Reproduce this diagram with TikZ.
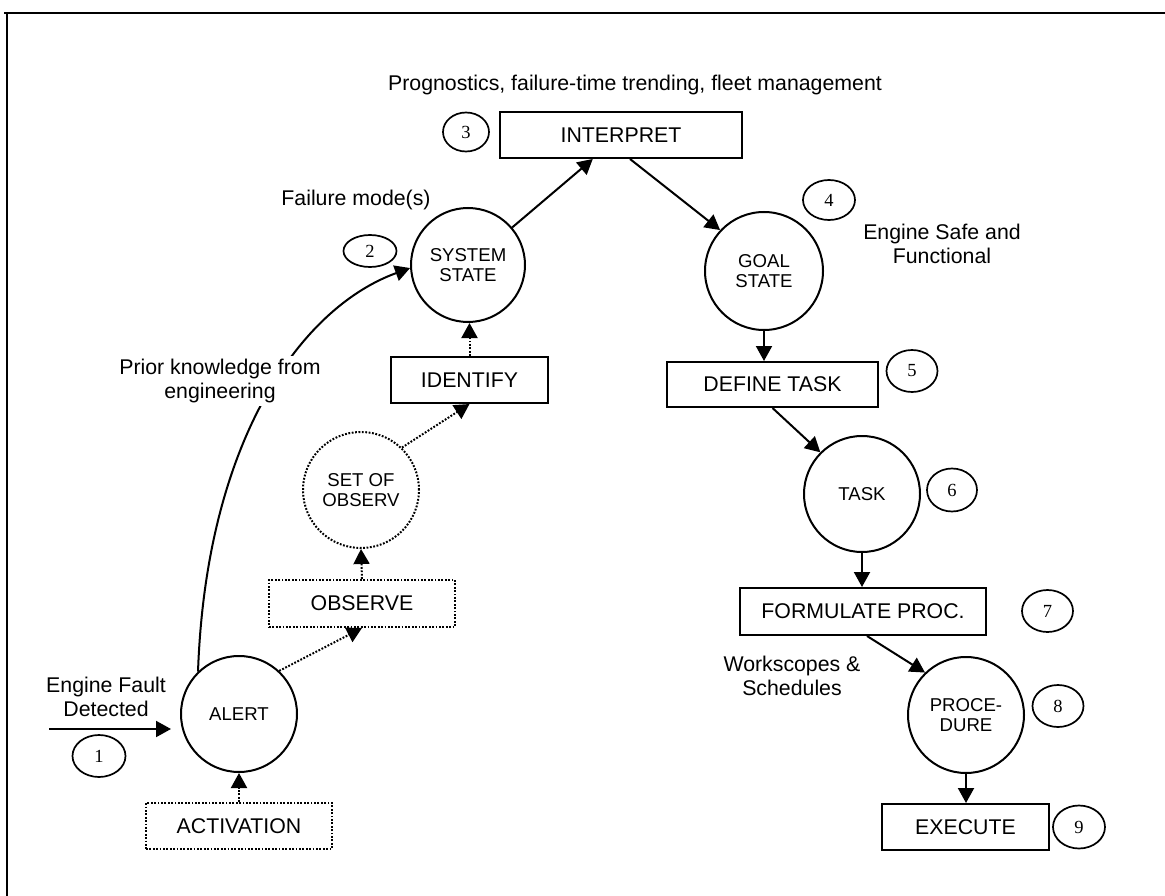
\documentclass[tikz,border=0pt]{standalone}
\usepackage{fontspec}
\setmainfont{Liberation Sans}
\newfontfamily\numfam{Liberation Serif}
\usetikzlibrary{arrows.meta,shapes.geometric,calc}
\begin{document}
\begin{tikzpicture}[x=1pt,y=-1pt,
  lw/.style={line width=2pt},
  circnode/.style={circle,draw,lw,minimum size=116pt,inner sep=0pt,align=center,font=\fontsize{18.6}{20}\selectfont},
  boxnode/.style={rectangle,draw,lw,minimum height=46pt,inner sep=0pt,font=\fontsize{21.3}{24}\selectfont},
  dotpat/.style={dash pattern=on 1.8pt off 1.6pt},
  numnode/.style={ellipse,draw,line width=1.7pt,inner sep=0pt,font=\numfam\fontsize{18.5}{20}\selectfont},
  lbl/.style={align=center,font=\fontsize{21.3}{23.5}\selectfont,inner sep=1pt},
  arr/.style={lw,-{Triangle[length=15pt,width=16pt]}},
  dotarr/.style={arr,dotpat}
]
\useasboundingbox (0,0) rectangle (1165,896);
% frame
\draw[line width=2.2pt] (4,13) -- (1165,13);
\draw[line width=2pt] (7,13) -- (7,896);

% text labels
\node[lbl] (prog) at (635,85) {Prognostics, failure-time trending, fleet management};
\node[lbl] (fail) at (356,200) {Failure mode(s)};
\node[lbl] (safe) at (942,244) {Engine Safe and\\Functional};
\node[lbl] (efd) at (106,697) {Engine Fault\\Detected};
\node[lbl] (work) at (792,676) {Workscopes \&\\Schedules};

% boxes
\node[boxnode,minimum width=242pt] (interp) at (621,135) {INTERPRET};
\node[boxnode,minimum width=157pt] (identify) at (469.5,380) {IDENTIFY};
\node[boxnode,dotpat,minimum width=186pt,minimum height=47pt] (observe) at (362,603.5) {OBSERVE};
\node[boxnode,dotpat,minimum width=186pt] (activation) at (239,826) {ACTIVATION};
\node[boxnode,minimum width=211pt,minimum height=45pt] (define) at (772.5,384.5) {DEFINE TASK};
\node[boxnode,minimum width=246pt,minimum height=47pt] (formulate) at (863,611.5) {FORMULATE PROC.};
\node[boxnode,minimum width=167pt] (execute) at (965.5,827) {EXECUTE};

% circles
\node[circnode] (alert) at (239,714) {ALERT};
\node[circnode,dotpat] (setobs) at (361,490) {SET OF\\OBSERV};
\node[circnode,minimum size=114pt] (sys) at (468,265) {SYSTEM\\STATE};
\node[circnode,minimum size=118pt] (goal) at (764,271) {GOAL\\STATE};
\node[circnode] (task) at (862,494) {TASK};
\node[circnode] (proc) at (966,715) {PROCE-\\DURE};

% numbers
\node[numnode,minimum width=53pt,minimum height=42pt] (n1) at (99,756) {1};
\node[numnode,minimum width=53pt,minimum height=32pt] (n2) at (370,251) {2};
\node[numnode,minimum width=46pt,minimum height=39pt] (n3) at (466,132) {3};
\node[numnode,minimum width=52pt,minimum height=40pt] (n4) at (829,200) {4};
\node[numnode,minimum width=51pt,minimum height=42pt] (n5) at (912,371) {5};
\node[numnode,minimum width=50pt,minimum height=43pt] (n6) at (952,490) {6};
\node[numnode,minimum width=51pt,minimum height=42pt] (n7) at (1047.5,611) {7};
\node[numnode,minimum width=51pt,minimum height=42pt] (n8) at (1058,706) {8};
\node[numnode,minimum width=52pt,minimum height=43pt] (n9) at (1079,827) {9};

% connectors
\coordinate (inS) at (49,729);
\draw[arr,shorten >=9pt] (inS) -- (inS -| alert.west);
\draw[arr] (alert.134) .. controls +(8,-230) and +(-110,40) .. (sys.183);
\node[lbl,fill=white,inner sep=3pt] (prior) at (220,381) {Prior knowledge from\\engineering};
\draw[dotarr] (activation.north) -- (alert.south);
\draw[dotarr] (alert.47) -- (observe.south);
\draw[dotarr] (observe.north) -- (setobs.south);
\draw[dotarr] (setobs.46) -- (identify.south);
\draw[dotarr] (identify.north) -- (identify.north |- sys.south);
\draw[arr] (sys) -- (interp);
\draw[arr] ([xshift=9pt]interp.south) -- (goal.137);
\draw[arr] (goal.south) -- (goal.south |- define.north);
\draw[arr] (define.south) -- (task.135);
\draw[arr] (task.south) -- (task.south |- formulate.north);
\draw[arr] ([xshift=4pt]formulate.south) -- (proc.134);
\draw[arr] (proc.south) -- (proc.south |- execute.north);
\end{tikzpicture}
\end{document}
